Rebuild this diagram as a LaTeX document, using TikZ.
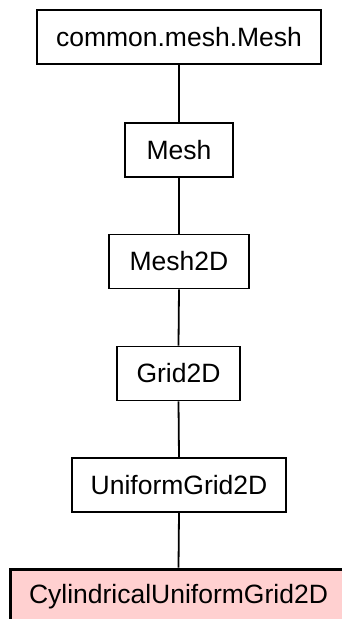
\documentclass[tikz,border=0pt]{standalone}
\usepackage{fontspec}
\setmainfont{Liberation Sans}
\definecolor{hilite}{HTML}{FFD0D0}
\begin{document}
\begin{tikzpicture}[x=1pt,y=-1pt,
  cls/.style={draw, line width=1.8pt, fill=white, inner sep=0pt,
    minimum height=54pt, font=\fontsize{26.5}{30}\selectfont},
  current/.style={cls, fill=hilite, line width=3pt},
  link/.style={line width=1.8pt}]
\useasboundingbox (0,0) rectangle (342,619);
% class hierarchy, base class at the top
\node[cls, minimum width=284pt] (cm) at (179,37) {common.mesh.Mesh};
\node[cls, minimum width=108pt] (m) at (179,150) {Mesh};
\node[cls, minimum width=140pt] (m2) at (179,261.5) {Mesh2D};
\node[cls, minimum width=123pt] (g2) at (178.5,373.5) {Grid2D};
\node[cls, minimum width=214pt] (ug) at (179,485) {UniformGrid2D};
\node[current, minimum width=337pt, minimum height=56pt] (cug) at (178.5,597) {CylindricalUniformGrid2D};
% inheritance links
\draw[link] (cm.south) -- (m.north);
\draw[link] (m.south) -- (m2.north);
\draw[link] (m2.south) -- (g2.north);
\draw[link] (g2.south) -- (ug.north);
\draw[link] (ug.south) -- (cug.north);
\end{tikzpicture}
\end{document}
